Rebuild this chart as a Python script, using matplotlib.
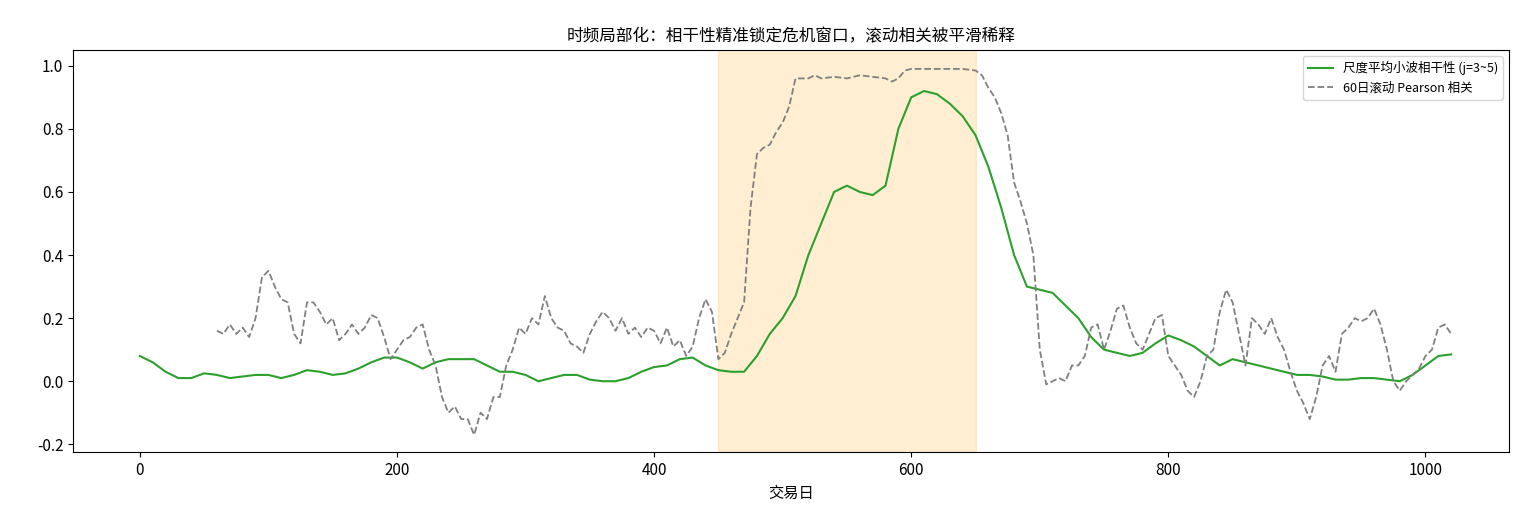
import numpy as np
import matplotlib
matplotlib.use("Agg")
import matplotlib.pyplot as plt

plt.rcParams['font.family'] = ['Noto Sans CJK SC', 'DejaVu Sans']
plt.rcParams['axes.unicode_minus'] = False

coh_days = list(range(0, 1021, 10))
coh_vals = [0.08,0.06,0.03,0.01,0.01,0.025,0.02,0.01,0.015,0.02,0.02,0.01,0.02,0.035,0.03,0.02,0.025,0.04,0.06,0.075,
            0.075,0.06,0.04,0.06,0.07,0.07,0.07,0.05,0.03,0.03,0.02,0.0,0.01,0.02,0.02,0.005,0.0,0.0,0.01,0.03,
            0.045,0.05,0.07,0.075,0.05,0.035,0.03,0.03,0.08,0.15,0.2,0.27,0.4,0.5,0.6,0.62,0.6,0.59,0.62,0.8,
            0.9,0.92,0.91,0.88,0.84,0.78,0.68,0.55,0.4,0.3,0.29,0.28,0.24,0.2,0.14,0.1,0.09,0.08,0.09,0.12,
            0.145,0.13,0.11,0.08,0.05,0.07,0.06,0.05,0.04,0.03,0.02,0.02,0.015,0.005,0.005,0.01,0.01,0.005,0.0,0.02,
            0.05,0.08,0.085]

roll_days = [60,65,70,75,80,85,90,95,100,105,110,115,120,125,130,135,140,145,150,155,160,165,170,175,180,185,190,195,
             200,205,210,215,220,225,230,235,240,245,250,255,260,265,270,275,280,285,290,295,300,305,310,315,320,325,
             330,335,340,345,350,355,360,365,370,375,380,385,390,395,400,405,410,415,420,425,430,435,440,445,450,455,
             460,465,470,475,480,485,490,495,500,505,510,515,520,525,530,540,550,560,570,580,585,590,595,600,610,620,
             630,640,650,655,660,665,670,675,680,685,690,695,700,705,710,715,720,725,730,735,740,745,750,755,760,765,
             770,775,780,785,790,795,800,805,810,815,820,825,830,835,840,845,850,855,860,865,870,875,880,885,890,895,
             900,905,910,915,920,925,930,935,940,945,950,955,960,965,970,975,980,985,990,995,1000,1005,1010,1015,1020]
roll_vals = [0.16,0.15,0.18,0.15,0.17,0.14,0.2,0.33,0.35,0.3,0.26,0.25,0.15,0.12,0.25,0.25,0.22,0.18,0.2,0.13,0.15,0.18,0.15,0.17,
             0.21,0.2,0.14,0.07,0.1,0.13,0.14,0.17,0.18,0.1,0.05,-0.05,-0.1,-0.08,-0.12,-0.12,-0.17,-0.1,-0.12,-0.05,-0.05,0.05,
             0.1,0.17,0.15,0.2,0.18,0.27,0.2,0.17,0.16,0.12,0.11,0.09,0.15,0.19,0.22,0.2,0.16,0.2,0.15,0.17,0.14,0.17,0.16,0.12,
             0.17,0.11,0.13,0.08,0.11,0.2,0.26,0.22,0.07,0.09,0.15,0.2,0.25,0.55,0.72,0.74,0.75,0.79,0.82,0.87,0.96,0.96,0.96,
             0.97,0.96,0.965,0.96,0.97,0.965,0.96,0.95,0.96,0.985,0.99,0.99,0.99,0.99,0.99,0.985,0.97,0.93,0.9,0.85,0.78,0.63,
             0.57,0.5,0.4,0.1,-0.01,0.0,0.01,0.0,0.05,0.05,0.08,0.17,0.18,0.1,0.16,0.23,0.24,0.17,0.12,0.1,0.15,0.2,0.21,0.08,
             0.05,0.02,-0.03,-0.05,0.0,0.08,0.1,0.22,0.29,0.25,0.15,0.05,0.2,0.18,0.15,0.2,0.14,0.1,0.03,-0.03,-0.07,-0.12,-0.05,
             0.05,0.08,0.03,0.15,0.17,0.2,0.19,0.2,0.23,0.18,0.1,0.0,-0.03,0.0,0.02,0.04,0.08,0.1,0.17,0.18,0.15]

crisis = (450, 650)

fig = plt.figure(figsize=(15.4, 5.32), dpi=100)
ax = fig.add_axes([0.0474, 0.15, 0.9325, 0.756])
ax.axvspan(*crisis, color='orange', alpha=0.18)
ax.plot(coh_days, coh_vals, color='#2ca02c', lw=1.5, label='尺度平均小波相干性 (j=3~5)')
ax.plot(roll_days, roll_vals, color='gray', lw=1.3, ls='--', label='60日滚动 Pearson 相关')
ax.set_xlim(-52, 1065)
ax.set_ylim(-0.225, 1.05)
ax.set_xlabel('交易日', fontsize=11)
ax.set_title('时频局部化：相干性精准锁定危机窗口，滚动相关被平滑稀释', fontsize=12)
ax.tick_params(labelsize=11)
ax.legend(loc='upper right', fontsize=9)
fig.savefig('out.png', dpi=100)
